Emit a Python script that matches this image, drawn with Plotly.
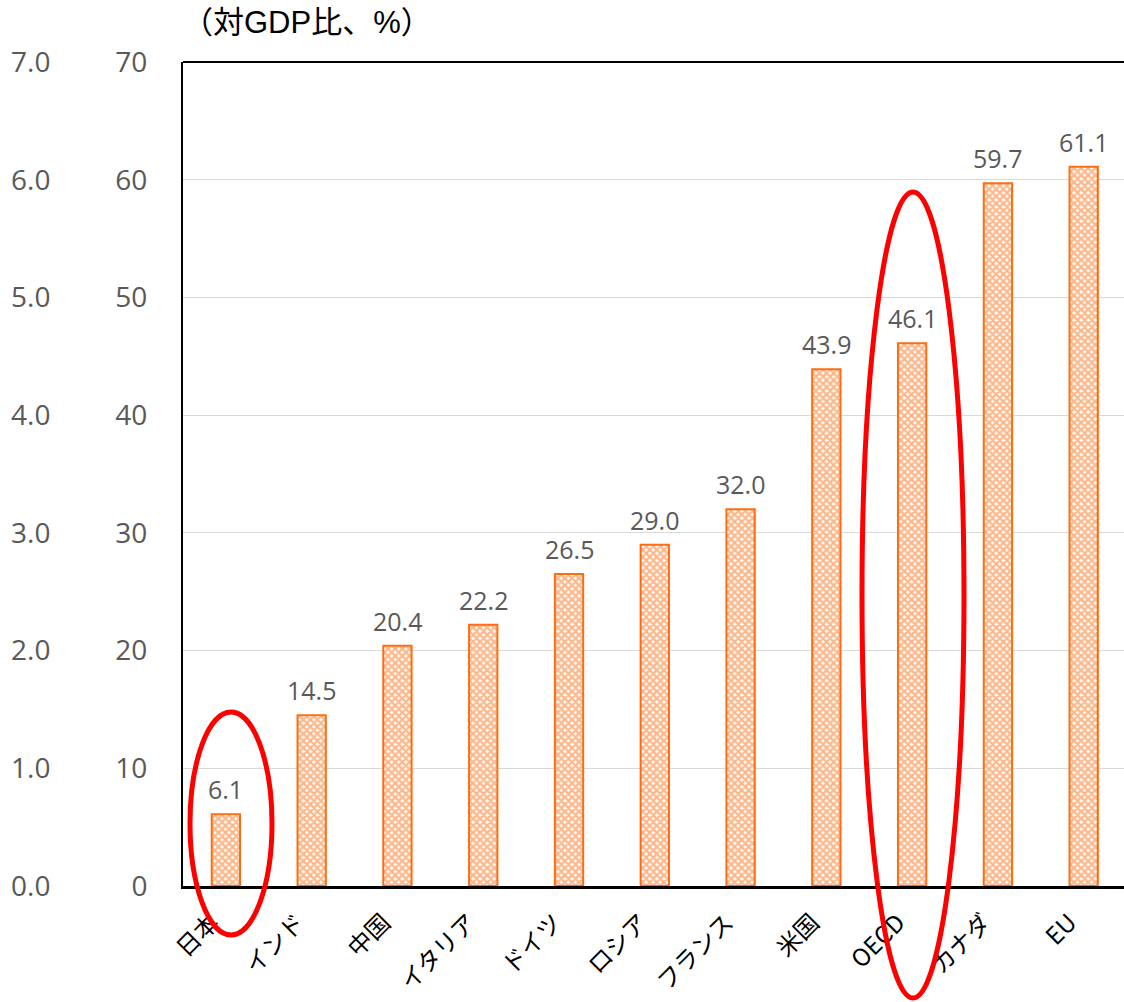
import plotly.graph_objects as go

categories = ["日本", "インド", "中国", "イタリア", "ドイツ", "ロシア", "フランス", "米国", "OECD", "カナダ", "EU"]
values = [6.1, 14.5, 20.4, 22.2, 26.5, 29.0, 32.0, 43.9, 46.1, 59.7, 61.1]
left_ticks = [0, 1, 2, 3, 4, 5, 6, 7]
main_ticks = [0, 10, 20, 30, 40, 50, 60, 70]
unit_title = "（対GDP比、%）"

ORANGE = "#FF6D12"
GRAY_TXT = "#595959"
W, H = 1124, 1002
ML, MR, MT, MB = 10, 0, 62, 116
PW = W - ML - MR
PH = H - MT - MB


def px_x(p):
    return (p - ML) / PW


def px_y(p):
    return (H - MB - p) / PH


fig = go.Figure()
fig.add_trace(go.Bar(
    x=categories, y=values,
    width=0.33,
    marker=dict(color="white", line=dict(color=ORANGE, width=2),
                pattern=dict(shape="x", fgcolor=ORANGE, bgcolor="white", size=5, solidity=0.7)),
    cliponaxis=False, hoverinfo="skip",
))
fig.add_trace(go.Scatter(x=categories, y=[v / 10 for v in values], yaxis="y2",
                         mode="markers", marker=dict(opacity=0), hoverinfo="skip", showlegend=False))

value_labels = [dict(x=c, y=v, xref="x", yref="y", text=f"{v:.1f}", showarrow=False,
                     yanchor="bottom", yshift=6,
                     font=dict(family="Open Sans", size=25, color=GRAY_TXT))
                for c, v in zip(categories, values)]

fig.update_layout(
    width=W, height=H,
    margin=dict(l=ML, r=MR, t=MT, b=MB, autoexpand=False),
    plot_bgcolor="white", paper_bgcolor="white",
    showlegend=False,
    xaxis=dict(domain=[px_x(183), 1], range=[-0.5, 10.47], automargin=False,
               showline=True, linecolor="black", linewidth=3,
               tickangle=-45, tickfont=dict(family="Noto Sans CJK JP", size=24, color="black"),
               ticks="", showgrid=False, ticklabelshift=-14, ticklabelstandoff=10),
    yaxis=dict(range=[0, 70], tickvals=main_ticks, ticktext=[str(t) for t in main_ticks],
               automargin=False,
               showgrid=True, gridcolor="#D9D9D9", gridwidth=1,
               showline=True, linecolor="black", linewidth=2,
               ticks="outside", ticklen=0, ticklabelstandoff=28,
               tickfont=dict(family="Open Sans", size=28, color=GRAY_TXT), zeroline=False),
    yaxis2=dict(range=[0, 7], tickvals=left_ticks, ticktext=[f"{t:.1f}" for t in left_ticks],
                overlaying="y", anchor="free", position=px_x(60), side="left", automargin=False,
                showgrid=False, showline=False, zeroline=False,
                ticks="outside", ticklen=0, ticklabelstandoff=4,
                tickfont=dict(family="Open Sans", size=28, color=GRAY_TXT)),
    shapes=[
        dict(type="line", xref="x domain", yref="y domain", x0=0, x1=1, y0=1, y1=1,
             line=dict(color="black", width=2)),
        dict(type="circle", xref="paper", yref="paper", layer="above",
             x0=px_x(190), x1=px_x(272), y0=px_y(935), y1=px_y(712),
             line=dict(color="#FF0000", width=5)),
        dict(type="circle", xref="paper", yref="paper", layer="above",
             x0=px_x(862), x1=px_x(964), y0=px_y(998), y1=px_y(192),
             line=dict(color="#FF0000", width=5)),
    ],
    annotations=value_labels + [
        dict(text=unit_title, xref="paper", yref="paper", x=px_x(180), y=px_y(22),
             xanchor="left", yanchor="middle", showarrow=False,
             font=dict(family="Liberation Sans, Noto Sans CJK JP", size=31, color="black"))],
)

fig.write_html("out.html", config={"displayModeBar": False},
               post_script="document.body.style.margin='0';")
